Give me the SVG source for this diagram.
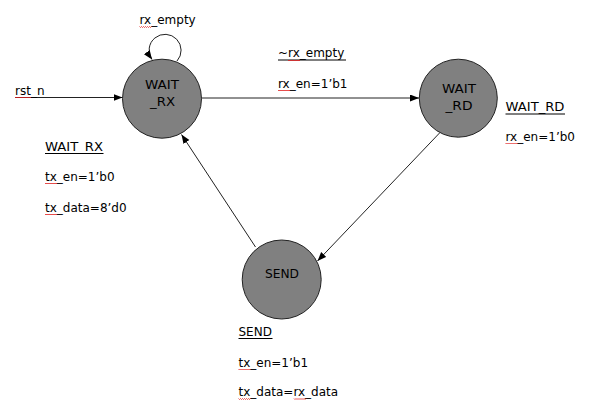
<svg xmlns="http://www.w3.org/2000/svg" width="597" height="411" viewBox="0 0 597 411">
<style>
  text { font-family: "DejaVu Sans", Verdana, sans-serif; font-size: 12px; fill: #000; }
  .state { fill: #808080; stroke: #222; stroke-width: 1; }
  .conn { fill: none; stroke: #222; stroke-width: 1; marker-end: url(#arrow); }
  .ul { stroke: #000; stroke-width: 1; }
  .sq { fill: none; stroke: #e02020; stroke-width: 0.8; }
</style>
<defs>
  <marker id="arrow" markerUnits="userSpaceOnUse" markerWidth="10" markerHeight="8" refX="9" refY="3.5" orient="auto">
    <path d="M0,0 L9,3.5 L0,7 z" fill="#000"/>
  </marker>
  <path id="sq12" class="sq" d="M0,0 l1,1 1,-1 1,1 1,-1 1,1 1,-1 1,1 1,-1 1,1 1,-1 1,1 1,-1"/>
  <path id="sq16" class="sq" d="M0,0 l1,1 1,-1 1,1 1,-1 1,1 1,-1 1,1 1,-1 1,1 1,-1 1,1 1,-1 1,1 1,-1 1,1 1,-1"/>
</defs>
<rect width="597" height="411" fill="#fff"/>

<g id="connectors">
  <path id="c-rst" class="conn" d="M15,97.5 H122.5"/>
  <path id="c-loop" class="conn" d="M177,61 A16,16 0 1 0 152,59.5"/>
  <path id="c-rx-rd" class="conn" d="M201.5,98 H419"/>
  <path id="c-rd-send" class="conn" d="M440,132.5 L317.5,261"/>
  <path id="c-send-rx" class="conn" d="M255.5,247 L181.5,134.5"/>
</g>

<g id="labels">
  <text x="139.5" y="24">rx_empty</text>
  <text x="15" y="94.5">rst_n</text>
  <text x="278" y="57">~rx_empty</text>
  <line class="ul" x1="278" y1="60" x2="346" y2="60"/>
  <text x="278" y="87.5">rx_en=1’b1</text>
</g>

<g id="WAIT_RX">
  <circle class="state" cx="162" cy="98.7" r="39.5"/>
  <text x="162" y="89" text-anchor="middle" textLength="34" lengthAdjust="spacingAndGlyphs">WAIT</text>
  <text x="162.5" y="106" text-anchor="middle" textLength="25" lengthAdjust="spacingAndGlyphs">_RX</text>
</g>

<g id="WAIT_RD">
  <circle class="state" cx="458.3" cy="98.2" r="39"/>
  <text x="459" y="92.5" text-anchor="middle" textLength="34" lengthAdjust="spacingAndGlyphs">WAIT</text>
  <text x="459" y="110" text-anchor="middle" textLength="27" lengthAdjust="spacingAndGlyphs">_RD</text>
</g>

<g id="SEND">
  <circle class="state" cx="281.7" cy="279.5" r="39.5"/>
  <text x="282" y="277.5" text-anchor="middle" textLength="34" lengthAdjust="spacingAndGlyphs">SEND</text>
</g>

<g id="out-WAIT_RX">
  <text x="45" y="150.5" textLength="58" lengthAdjust="spacingAndGlyphs">WAIT_RX</text>
  <line class="ul" x1="45" y1="153.5" x2="103.5" y2="153.5"/>
  <text x="45" y="180.5">tx_en=1’b0</text>
  <text x="45" y="211.5">tx_data=8’d0</text>
</g>

<g id="out-WAIT_RD">
  <text x="505.5" y="111" textLength="59" lengthAdjust="spacingAndGlyphs">WAIT_RD</text>
  <line class="ul" x1="505.5" y1="114" x2="565" y2="114"/>
  <text x="505.5" y="140.5">rx_en=1’b0</text>
</g>

<g id="out-SEND">
  <text x="238.5" y="336">SEND</text>
  <line class="ul" x1="238.5" y1="338.5" x2="272.5" y2="338.5"/>
  <text x="238.5" y="366.5">tx_en=1’b1</text>
  <text x="238.5" y="396">tx_data=rx_data</text>
</g>

<g id="spellcheck">
  <use href="#sq12" x="139.5" y="26.5"/>
  <use href="#sq16" x="15" y="97"/>
  <use href="#sq12" x="288" y="60"/>
  <use href="#sq12" x="278" y="90"/>
  <use href="#sq12" x="505.5" y="143"/>
  <use href="#sq12" x="45" y="183"/>
  <use href="#sq12" x="45" y="214"/>
  <use href="#sq12" x="238.5" y="369"/>
  <use href="#sq12" x="238.5" y="398.5"/>
  <use href="#sq12" x="294" y="398.5"/>
</g>
</svg>
